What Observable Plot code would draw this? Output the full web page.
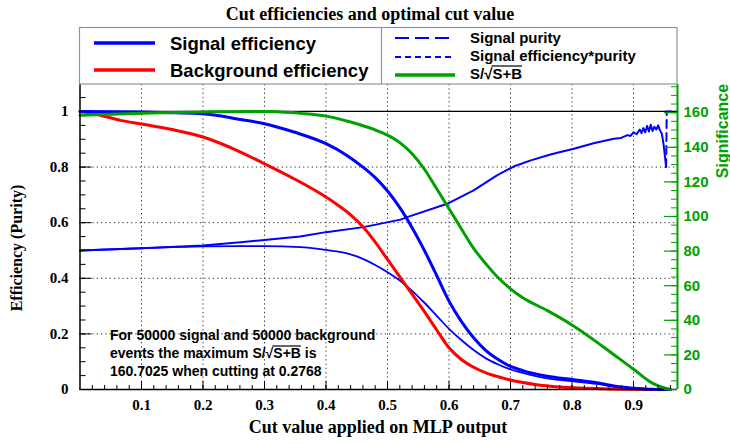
<!DOCTYPE html>
<html>
<head>
<meta charset="utf-8">
<script src="https://cdn.jsdelivr.net/npm/d3@7"></script>
<script src="https://cdn.jsdelivr.net/npm/@observablehq/plot@0.6"></script>
<style>
  body { margin: 0; background: #fff; }
  svg { display: block; }
</style>
</head>
<body>
<div id="chart"></div>
<script>
// Cut efficiencies of the MLP classifier output (TMVA-style summary plot)

// Signal efficiency
const sigEffCut = [0, 0.1, 0.2, 0.261, 0.3, 0.348, 0.4, 0.434, 0.46, 0.48, 0.50, 0.52, 0.54, 0.56, 0.58, 0.60, 0.62, 0.64, 0.66, 0.68, 0.70, 0.72, 0.76, 0.80, 0.84, 0.88, 0.92, 0.96];
const sigEffVal = [1.0, 0.998, 0.992, 0.971, 0.956, 0.926, 0.884, 0.842, 0.80, 0.762, 0.714, 0.654, 0.582, 0.500, 0.410, 0.318, 0.245, 0.186, 0.140, 0.108, 0.083, 0.068, 0.048, 0.036, 0.024, 0.009, 0.002, 0];

// Background efficiency
const bkgEffCut = [0, 0.02, 0.066, 0.1, 0.15, 0.2, 0.261, 0.3, 0.348, 0.4, 0.42, 0.44, 0.46, 0.48, 0.50, 0.52, 0.54, 0.56, 0.58, 0.60, 0.62, 0.64, 0.66, 0.68, 0.70, 0.74, 0.78, 0.85, 0.96];
const bkgEffVal = [1.0, 0.993, 0.968, 0.955, 0.935, 0.908, 0.854, 0.812, 0.758, 0.692, 0.662, 0.628, 0.585, 0.530, 0.468, 0.405, 0.343, 0.280, 0.214, 0.150, 0.108, 0.080, 0.060, 0.046, 0.034, 0.018, 0.009, 0.003, 0];

// Signal purity
const purityCut = [0, 0.1, 0.2, 0.261, 0.3, 0.358, 0.4, 0.461, 0.521, 0.532, 0.597, 0.64, 0.678, 0.705, 0.733, 0.765, 0.781, 0.803, 0.835, 0.868, 0.88, 0.89, 0.895, 0.9, 0.905, 0.91, 0.913, 0.916, 0.919, 0.922, 0.925, 0.928, 0.931, 0.934, 0.937, 0.94, 0.943, 0.946, 0.949, 0.953];
const purityVal = [0.50, 0.508, 0.518, 0.53, 0.538, 0.55, 0.566, 0.584, 0.611, 0.62, 0.668, 0.716, 0.77, 0.802, 0.824, 0.845, 0.854, 0.866, 0.886, 0.902, 0.905, 0.915, 0.912, 0.925, 0.918, 0.935, 0.922, 0.94, 0.925, 0.948, 0.928, 0.952, 0.93, 0.945, 0.935, 0.95, 0.932, 0.92, 0.88, 0.80];
// last bins of the purity (drawn dashed)
const purityTailCut = [0.953, 0.954, 0.9715];
const purityTailVal = [0.80, 1.0, 1.0];

// Signal efficiency * purity
const effPurCut = [0, 0.1, 0.2, 0.261, 0.3, 0.358, 0.40, 0.42, 0.44, 0.46, 0.48, 0.50, 0.52, 0.54, 0.56, 0.58, 0.60, 0.62, 0.64, 0.66, 0.68, 0.70, 0.72, 0.76, 0.80, 0.84, 0.88, 0.92, 0.96];
const effPurVal = [0.50, 0.508, 0.515, 0.516, 0.516, 0.512, 0.502, 0.496, 0.486, 0.470, 0.448, 0.422, 0.392, 0.355, 0.312, 0.265, 0.218, 0.178, 0.142, 0.112, 0.090, 0.072, 0.060, 0.040, 0.030, 0.020, 0.007, 0.002, 0];

// Significance S/sqrt(S+B)
const signifCut = [0, 0.05, 0.1, 0.15, 0.2, 0.2768, 0.32, 0.36, 0.40, 0.44, 0.478, 0.50, 0.52, 0.54, 0.56, 0.58, 0.60, 0.62, 0.64, 0.66, 0.68, 0.70, 0.72, 0.76, 0.80, 0.85, 0.90, 0.933, 0.949, 0.96];
const signifVal = [158.5, 159.1, 159.7, 160.1, 160.4, 160.7025, 160.6, 159.6, 158.0, 154.6, 150.3, 147.0, 142.7, 136.3, 127.3, 116.0, 104.5, 92.9, 81.6, 72.6, 64.6, 58.2, 53.0, 45.6, 37.3, 24.9, 11.7, 3.2, 1.0, 0];

// Axis ticks
const xMajor = [0.1, 0.2, 0.3, 0.4, 0.5, 0.6, 0.7, 0.8, 0.9];
const xMinor = d3.range(1, 49).map(i => i * 0.02);
const yMajor = [0, 0.2, 0.4, 0.6, 0.8, 1];
const yMinor = d3.range(0, 22).map(i => i * 0.05);
const yGrid = [0.2, 0.4, 0.6, 0.8];
const sigMajor = [0, 20, 40, 60, 80, 100, 120, 140, 160];
const sigMinor = d3.range(0, 36).map(i => i * 5);

const sigMax = 160.7025;   // maximum significance, drawn at efficiency 1
const bestCut = 0.2768;
const nSig = 50000, nBkg = 50000;

const W = 730, H = 444;
const mL = 79.5, mR = 53, mT = 84, mB = 55;
const innerW = W - mL - mR, innerH = H - mT - mB;
const xMax = 0.9715, yMax = 1.097;

const SERIF = "'Liberation Serif', 'Times New Roman', Times, serif";
const SANS = "'Liberation Sans', Arial, Helvetica, sans-serif";
const BLUE = "#0000ff", RED = "#ff0000", GREEN = "#00a000";

const toTable = (xs, ys) => xs.map((x, i) => ({x, y: ys[i]}));
const toY = s => s / sigMax;

const fmtY = d => d === 0 ? "0" : d === 1 ? "1" : String(d);

const plot = Plot.plot({
  width: W, height: H,
  marginLeft: mL, marginRight: mR, marginTop: mT, marginBottom: mB,
  x: {domain: [0, xMax], axis: null},
  y: {domain: [0, yMax], axis: null},
  style: {background: "white", overflow: "visible"},
  marks: [
    // dotted grid
    Plot.ruleX(xMajor, {stroke: "#333", strokeWidth: 1, strokeDasharray: "1.3,3"}),
    Plot.ruleY(yGrid, {stroke: "#333", strokeWidth: 1, strokeDasharray: "1.3,3"}),
    Plot.ruleY([1], {stroke: "black", strokeWidth: 1.2}),

    // curves
    Plot.line(toTable(effPurCut, effPurVal), {x: "x", y: "y", stroke: BLUE, strokeWidth: 1.8, curve: "monotone-x"}),
    Plot.line(toTable(purityCut, purityVal), {x: "x", y: "y", stroke: BLUE, strokeWidth: 2, curve: "linear"}),
    Plot.line(toTable(purityTailCut, purityTailVal), {x: "x", y: "y", stroke: BLUE, strokeWidth: 2, strokeDasharray: "8,5"}),
    Plot.line(toTable(bkgEffCut, bkgEffVal), {x: "x", y: "y", stroke: RED, strokeWidth: 3, curve: "monotone-x"}),
    Plot.line(toTable(sigEffCut, sigEffVal), {x: "x", y: "y", stroke: BLUE, strokeWidth: 3, curve: "monotone-x"}),
    Plot.line(toTable(signifCut, signifVal), {x: "x", y: d => toY(d.y), stroke: GREEN, strokeWidth: 3, curve: "monotone-x"}),

    // frame
    Plot.ruleX([0], {stroke: "black", strokeWidth: 1.5}),
    Plot.ruleY([0], {stroke: "black", strokeWidth: 1.5}),
    Plot.ruleX([xMax], {stroke: GREEN, strokeWidth: 2}),

    // inward ticks
    Plot.ruleX(xMinor, {stroke: "black", strokeWidth: 1, insetTop: innerH - 4}),
    Plot.ruleX(xMajor, {stroke: "black", strokeWidth: 1, insetTop: innerH - 8}),
    Plot.ruleY(yMinor, {stroke: "black", strokeWidth: 1, insetRight: innerW - 6}),
    Plot.ruleY(yMajor, {stroke: "black", strokeWidth: 1, insetRight: innerW - 12}),
    Plot.ruleY(sigMinor, {y: d => toY(d), stroke: GREEN, strokeWidth: 1, insetLeft: innerW - 6}),
    Plot.ruleY(sigMajor, {y: d => toY(d), stroke: GREEN, strokeWidth: 1.2, insetLeft: innerW - 13}),

    // tick labels
    Plot.text(xMajor, {x: d => d, frameAnchor: "bottom", dy: 16, lineAnchor: "middle", text: d => d.toFixed(1),
      fontFamily: SERIF, fontWeight: "bold", fontSize: 15, fill: "black"}),
    Plot.text(yMajor, {y: d => d, frameAnchor: "left", dx: -11.5, textAnchor: "end", text: fmtY,
      fontFamily: SERIF, fontWeight: "bold", fontSize: 15, fill: "black"}),
    Plot.text(sigMajor, {y: d => toY(d), frameAnchor: "right", dx: 6, textAnchor: "start", text: d => String(d),
      fontFamily: SANS, fontWeight: "bold", fontSize: 15, fill: GREEN})
  ]
});

document.getElementById("chart").appendChild(plot);
const svg = d3.select(plot);

// title and axis titles
svg.append("text").attr("x", 370).attr("y", 20).attr("text-anchor", "middle")
  .attr("font-family", SERIF).attr("font-weight", "bold").attr("font-size", 18)
  .text("Cut efficiencies and optimal cut value");
svg.append("text").attr("x", 378).attr("y", 433).attr("text-anchor", "middle")
  .attr("font-family", SERIF).attr("font-weight", "bold").attr("font-size", 18)
  .text("Cut value applied on MLP output");
svg.append("text").attr("transform", "translate(22,248) rotate(-90)").attr("text-anchor", "middle")
  .attr("font-family", SERIF).attr("font-weight", "bold").attr("font-size", 16)
  .text("Efficiency (Purity)");
svg.append("text").attr("transform", "translate(728,131) rotate(-90)").attr("text-anchor", "middle")
  .attr("font-family", SANS).attr("font-weight", "bold").attr("font-size", 16).attr("fill", GREEN)
  .text("Significance");

// draws "S/√S+B" with a bar over S+B
function sqrtLabel(sel, x, y, size, prefix, suffix, barDy) {
  const t = sel.append("text").attr("x", x).attr("y", y).attr("text-anchor", "start")
    .attr("font-family", SANS).attr("font-weight", "bold").attr("font-size", size);
  t.append("tspan").text(prefix + "S/√");
  t.append("tspan").text("S+B");
  if (suffix) t.append("tspan").text(suffix);
  const node = t.node();
  const i0 = (prefix + "S/√").length;
  const x0 = node.getStartPositionOfChar(i0).x;
  const x1 = node.getEndPositionOfChar(i0 + 2).x;
  sel.append("line").attr("x1", x0 - 1).attr("x2", x1).attr("y1", y + barDy).attr("y2", y + barDy)
    .attr("stroke", "black").attr("stroke-width", 1.2);
}

// legend box
const lg = svg.append("g");
lg.append("rect").attr("x", 79.5).attr("y", 27.5).attr("width", 597.5).attr("height", 56.5)
  .attr("fill", "white").attr("stroke", "#8f94a3").attr("stroke-width", 1.2);
lg.append("line").attr("x1", 381.5).attr("x2", 381.5).attr("y1", 27.5).attr("y2", 84)
  .attr("stroke", "#8f94a3").attr("stroke-width", 1.2);

const legendLeft = [
  {label: "Signal efficiency", color: BLUE, y: 43, ty: 50},
  {label: "Background efficiency", color: RED, y: 70, ty: 77}
];
legendLeft.forEach(e => {
  lg.append("line").attr("x1", 94).attr("x2", 155).attr("y1", e.y).attr("y2", e.y)
    .attr("stroke", e.color).attr("stroke-width", 3.5);
  lg.append("text").attr("x", 170).attr("y", e.ty).attr("text-anchor", "start").attr("font-family", SANS)
    .attr("font-weight", "bold").attr("font-size", 18.5).text(e.label);
});

const legendRight = [
  {label: "Signal purity", color: BLUE, dash: "14,6", w: 2, y: 38, ty: 43},
  {label: "Signal efficiency*purity", color: BLUE, dash: "6,4", w: 2, y: 57, ty: 61},
  {label: null, color: GREEN, dash: null, w: 3.5, y: 75, ty: 79}
];
legendRight.forEach(e => {
  const l = lg.append("line").attr("x1", 395).attr("x2", 455).attr("y1", e.y).attr("y2", e.y)
    .attr("stroke", e.color).attr("stroke-width", e.w);
  if (e.dash) l.attr("stroke-dasharray", e.dash);
  if (e.label) {
    lg.append("text").attr("x", 470).attr("y", e.ty).attr("text-anchor", "start").attr("font-family", SANS)
      .attr("font-weight", "bold").attr("font-size", 15).text(e.label);
  } else {
    sqrtLabel(lg, 470, e.ty, 15, "", "", -13);
  }
});

// optimal cut annotation
const note = svg.append("g");
note.append("text").attr("x", 110).attr("y", 340).attr("text-anchor", "start").attr("font-family", SANS)
  .attr("font-weight", "bold").attr("font-size", 14)
  .text(`For ${nSig} signal and ${nBkg} background`);
sqrtLabel(note, 110, 358, 14, "events the maximum ", " is", -12);
note.append("text").attr("x", 110).attr("y", 376).attr("text-anchor", "start").attr("font-family", SANS)
  .attr("font-weight", "bold").attr("font-size", 14)
  .text(`${sigMax.toFixed(4)} when cutting at ${bestCut.toFixed(4)}`);
</script>
</body>
</html>
